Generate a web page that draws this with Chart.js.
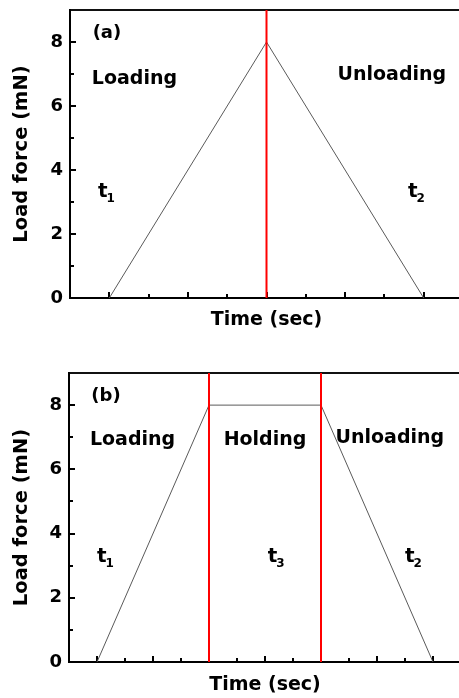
<!DOCTYPE html>
<html>
<head>
<meta charset="utf-8">
<script src="https://cdn.jsdelivr.net/npm/chart.js@4.4.1/dist/chart.umd.min.js"></script>
<style>
  html, body { margin: 0; padding: 0; background: #fff; overflow: hidden; width: 459px; height: 698px; }
  #wrapA { position: absolute; left: 0; top: 0; width: 480px; height: 340px; }
  #wrapB { position: absolute; left: 0; top: 340px; width: 480px; height: 358px; }
</style>
</head>
<body>
<div id="wrapA"><canvas id="chartA" width="480" height="340"></canvas></div>
<div id="wrapB"><canvas id="chartB" width="480" height="358"></canvas></div>
<script>
// Load–time profiles (time in arbitrary units, load in mN)
const panelATime = [1, 5, 9];
const panelALoad = [0, 8, 0];
const panelAMarkers = [5];            // end of loading
const panelARange = [0, 10];

const panelBTime = [1, 5, 9, 13];
const panelBLoad = [0, 8, 8, 0];
const panelBMarkers = [5, 9];         // start / end of holding
const panelBRange = [0, 14];

const loadRange = [0, 9];
const loadTickLabels = [0, 2, 4, 6, 8];

const panelALabels = ['(a)', 'Loading', 'Unloading'];
const panelBLabels = ['(b)', 'Loading', 'Holding', 'Unloading'];
const panelASymbols = [['t', '1'], ['t', '2']];
const panelBSymbols = [['t', '1'], ['t', '3'], ['t', '2']];

const axisTitleY = 'Load force (mN)';
const axisTitleX = 'Time (sec)';

const FONT = '"DejaVu Sans", sans-serif';

// Small inward tick marks, longer on major values
const inwardTicks = {
  id: 'inwardTicks',
  beforeDatasetsDraw(chart, args, opts) {
    const ctx = chart.ctx;
    const xs = chart.scales.x, ys = chart.scales.y;
    ctx.save();
    ctx.strokeStyle = '#000';
    ctx.lineWidth = 2;
    xs.ticks.forEach(t => {
      const v = t.value;
      if (v <= xs.min || v >= xs.max) return;
      const len = (v % 2 === opts.xMajorRemainder) ? opts.major : opts.minor;
      const px = Math.round(xs.getPixelForValue(v));
      ctx.beginPath();
      ctx.moveTo(px, ys.bottom);
      ctx.lineTo(px, ys.bottom - len);
      ctx.stroke();
    });
    ys.ticks.forEach(t => {
      const v = t.value;
      if (v <= ys.min || v >= ys.max) return;
      const len = (v % 2 === opts.yMajorRemainder) ? opts.major : opts.minor;
      const py = Math.round(ys.getPixelForValue(v));
      ctx.beginPath();
      ctx.moveTo(xs.left, py);
      ctx.lineTo(xs.left + len, py);
      ctx.stroke();
    });
    ctx.restore();
  }
};

// Text annotations placed in data coordinates
const plotText = {
  id: 'plotText',
  afterDatasetsDraw(chart, args, opts) {
    const ctx = chart.ctx;
    const xs = chart.scales.x, ys = chart.scales.y;
    ctx.save();
    ctx.fillStyle = '#000';
    (opts.items || []).forEach(it => {
      ctx.font = 'bold ' + it.size + 'px ' + FONT;
      ctx.textAlign = 'center';
      ctx.textBaseline = 'middle';
      ctx.fillText(it.text, xs.getPixelForValue(it.x), ys.getPixelForValue(it.y));
    });
    (opts.symbols || []).forEach(it => {
      const px = xs.getPixelForValue(it.x);
      const py = ys.getPixelForValue(it.y);
      ctx.textAlign = 'left';
      ctx.textBaseline = 'alphabetic';
      ctx.font = 'bold 20px ' + FONT;
      ctx.fillText(it.text[0], px, py);
      const w = ctx.measureText(it.text[0]).width;
      ctx.font = 'bold 12px ' + FONT;
      ctx.fillText(it.text[1], px + w - 1, py + 5);
    });
    ctx.restore();
  }
};

function series(xs, ys) {
  return xs.map((x, i) => ({ x: x, y: ys[i] }));
}

function makeChart(canvasId, cfg) {
  const datasets = [{
    data: series(cfg.time, cfg.load),
    showLine: true,
    borderColor: '#5a5a5a',
    borderWidth: 1,
    pointRadius: 0,
    order: 2
  }];
  cfg.markers.forEach(m => {
    datasets.push({
      data: series([m, m], loadRange),
      showLine: true,
      borderColor: '#ff0000',
      borderWidth: 2,
      pointRadius: 0,
      order: 1
    });
  });

  return new Chart(document.getElementById(canvasId), {
    type: 'scatter',
    data: { datasets: datasets },
    options: {
      responsive: false,
      animation: false,
      devicePixelRatio: 1,
      layout: { padding: { top: cfg.padTop, right: cfg.padRight, left: 0, bottom: 0 } },
      plugins: {
        legend: { display: false },
        tooltip: { enabled: false },
        inwardTicks: { major: 6, minor: 4, xMajorRemainder: 1, yMajorRemainder: 0 },
        plotText: { items: cfg.items, symbols: cfg.symbols }
      },
      scales: {
        x: {
          type: 'linear',
          position: 'bottom',
          min: cfg.range[0],
          max: cfg.range[1],
          ticks: { display: false, stepSize: 1 },
          grid: { display: true, drawOnChartArea: false, drawTicks: false },
          border: { display: true, color: '#000', width: 2 },
          title: {
            display: true,
            text: axisTitleX,
            color: '#000',
            font: { family: FONT, size: 19, weight: 'bold', lineHeight: 1.2 },
            padding: { top: 0, bottom: cfg.xTitlePad }
          },
          afterFit: s => { s.height = cfg.xAxisHeight; s.paddingLeft = 0; s.paddingRight = 0; }
        },
        xTop: {
          type: 'linear',
          position: 'top',
          min: cfg.range[0],
          max: cfg.range[1],
          ticks: { display: false },
          grid: { display: true, drawOnChartArea: false, drawTicks: false },
          border: { display: true, color: '#111', width: 2 },
          afterFit: s => { s.height = 0; s.paddingLeft = 0; s.paddingRight = 0; }
        },
        y: {
          type: 'linear',
          position: 'left',
          min: loadRange[0],
          max: loadRange[1],
          ticks: {
            stepSize: 1,
            padding: 7,
            color: '#000',
            font: { family: FONT, size: 18, weight: 'bold' },
            callback: v => (loadTickLabels.includes(v) ? String(v) : '')
          },
          grid: { display: true, drawOnChartArea: false, drawTicks: false },
          border: { display: true, color: '#000', width: 2 },
          title: {
            display: true,
            text: axisTitleY,
            color: '#000',
            font: { family: FONT, size: 19.5, weight: 'bold', lineHeight: 1.2 },
            padding: { top: 10, bottom: 0 }
          },
          afterFit: s => { s.width = cfg.yAxisWidth; s.paddingTop = 0; s.paddingBottom = 0; }
        }
      }
    },
    plugins: [inwardTicks, plotText]
  });
}

makeChart('chartA', {
  time: panelATime,
  load: panelALoad,
  markers: panelAMarkers,
  range: panelARange,
  padTop: 10,
  padRight: 17,
  xAxisHeight: 42,
  xTitlePad: 9,
  yAxisWidth: 70,
  items: [
    { text: panelALabels[0], x: 0.94, y: 8.26, size: 18 },
    { text: panelALabels[1], x: 1.64, y: 6.85, size: 19 },
    { text: panelALabels[2], x: 8.19, y: 6.98, size: 19 }
  ],
  symbols: [
    { text: panelASymbols[0], x: 0.71, y: 3.15 },
    { text: panelASymbols[1], x: 8.6, y: 3.15 }
  ]
});

makeChart('chartB', {
  time: panelBTime,
  load: panelBLoad,
  markers: panelBMarkers,
  range: panelBRange,
  padTop: 33,
  padRight: 19,
  xAxisHeight: 36,
  xTitlePad: 2,
  yAxisWidth: 69,
  items: [
    { text: panelBLabels[0], x: 1.32, y: 8.26, size: 18 },
    { text: panelBLabels[1], x: 2.27, y: 6.92, size: 19 },
    { text: panelBLabels[2], x: 7.0, y: 6.92, size: 19 },
    { text: panelBLabels[3], x: 11.46, y: 6.98, size: 19 }
  ],
  symbols: [
    { text: panelBSymbols[0], x: 1.0, y: 3.12 },
    { text: panelBSymbols[1], x: 7.1, y: 3.12 },
    { text: panelBSymbols[2], x: 12.0, y: 3.12 }
  ]
});
</script>
</body>
</html>
